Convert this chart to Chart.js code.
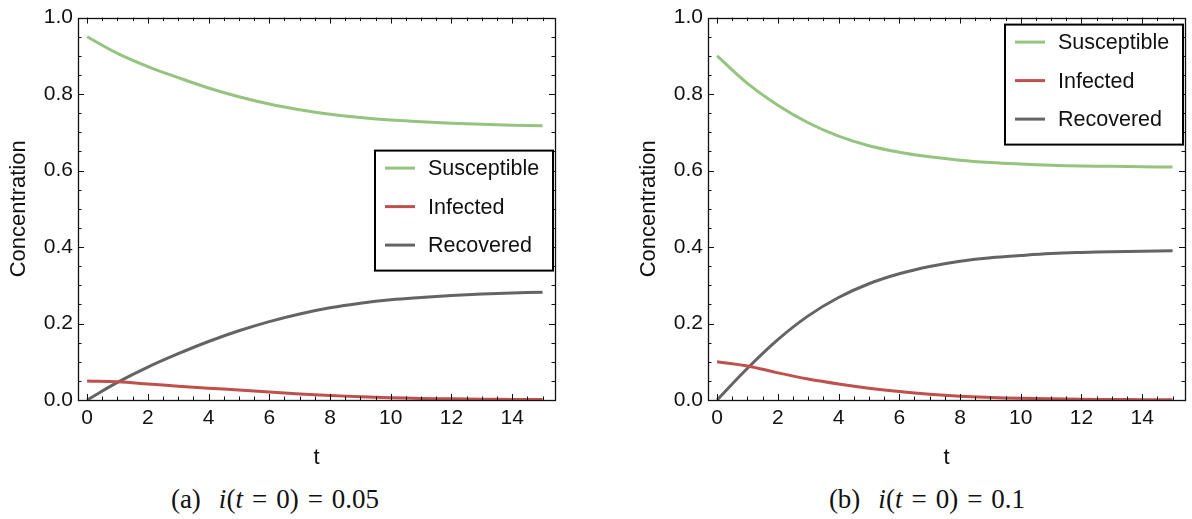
<!DOCTYPE html>
<html>
<head>
<meta charset="utf-8">
<script src="https://cdn.jsdelivr.net/npm/chart.js@4.4.1/dist/chart.umd.min.js"></script>
<style>
  html, body { margin: 0; padding: 0; background: #fff; width: 1192px; height: 519px; overflow: hidden; }
  .panel { position: absolute; top: 0; width: 562px; height: 480px; }
  .caption {
    position: absolute; top: 484px; transform: translateX(-50%);
    font-family: "Liberation Serif", "DejaVu Serif", serif; font-size: 27px; color: #111; white-space: nowrap;
  }
  .caption i { font-style: italic; }
  .caption .gap { display: inline-block; width: 18px; }
  .caption .rel { display: inline-block; margin: 0 9px; }
</style>
</head>
<body>
<div class="panel" style="left:0"><canvas id="chartA" width="562" height="480"></canvas></div>
<div class="panel" style="left:630px"><canvas id="chartB" width="562" height="480"></canvas></div>
<div class="caption" style="left:275px">(a)<span class="gap"></span><i>i</i>(<i>t</i><span class="rel">=</span>0)<span class="rel">=</span>0.05</div>
<div class="caption" style="left:927px">(b)<span class="gap"></span><i>i</i>(<i>t</i><span class="rel">=</span>0)<span class="rel">=</span>0.1</div>

<script>
// Time samples shared by both panels
const tValues = [0, 1, 2, 3, 4, 5, 6, 7, 8, 9, 10, 11, 12, 13, 14, 15];

// Panel (a): initial infected fraction 0.05
const susceptibleA = [0.950, 0.9065, 0.872, 0.843, 0.816, 0.793, 0.774, 0.759, 0.747, 0.7385, 0.732, 0.7278, 0.724, 0.7209, 0.7185, 0.717];
const infectedA    = [0.050, 0.0475, 0.042, 0.036, 0.031, 0.026, 0.021, 0.016, 0.012, 0.0085, 0.006, 0.0042, 0.003, 0.0021, 0.0015, 0.001];
const recoveredA   = [0.000, 0.046, 0.086, 0.121, 0.153, 0.181, 0.205, 0.225, 0.241, 0.253, 0.262, 0.268, 0.273, 0.277, 0.280, 0.282];

// Panel (b): initial infected fraction 0.1
const susceptibleB = [0.900, 0.828, 0.771, 0.725, 0.690, 0.665, 0.648, 0.636, 0.627, 0.621, 0.617, 0.614, 0.612, 0.611, 0.610, 0.609];
const infectedB    = [0.100, 0.089, 0.071, 0.055, 0.042, 0.031, 0.022, 0.015, 0.010, 0.0068, 0.0045, 0.003, 0.002, 0.0013, 0.0009, 0.0006];
const recoveredB   = [0.000, 0.083, 0.158, 0.220, 0.268, 0.304, 0.330, 0.349, 0.363, 0.372, 0.378, 0.383, 0.386, 0.388, 0.389, 0.390];

// Axis ticks
const xTicks = [0, 2, 4, 6, 8, 10, 12, 14];
const yTicks = [0, 0.2, 0.4, 0.6, 0.8, 1.0];

const seriesNames = ['Susceptible', 'Infected', 'Recovered'];
const seriesColors = ['#95c47f', '#bf504b', '#646464'];

const sansFont = '"Liberation Sans", Arial, sans-serif';

function toPoints(values) {
  return tValues.map((t, i) => ({ x: t, y: values[i] }));
}

function buildDatasets(s, inf, r) {
  return [s, inf, r].map((vals, i) => ({
    label: seriesNames[i],
    data: toPoints(vals),
    borderColor: seriesColors[i],
    backgroundColor: seriesColors[i],
    borderWidth: 3,
    pointRadius: 0,
    fill: false,
    tension: 0.4
  }));
}

// Frame around the plot area with inward ticks on all four sides
const frameTicks = {
  id: 'frameTicks',
  afterDatasetsDraw(chart, args, opts) {
    const ctx = chart.ctx;
    const { left, right, top, bottom } = chart.chartArea;
    const xs = chart.scales.x, ys = chart.scales.y;
    ctx.save();
    ctx.strokeStyle = '#111';
    ctx.lineWidth = 1;
    ctx.beginPath();
    // x ticks (bottom and top)
    const nx = Math.round((opts.xEnd - opts.xStart) / opts.xMinor);
    for (let k = 0; k <= nx; k++) {
      const v = opts.xStart + k * opts.xMinor;
      const major = Math.abs(v / opts.xMajor - Math.round(v / opts.xMajor)) < 1e-6;
      const len = major ? 6 : 3.5;
      const px = Math.round(xs.getPixelForValue(v)) + 0.5;
      ctx.moveTo(px, bottom); ctx.lineTo(px, bottom - len);
      ctx.moveTo(px, top); ctx.lineTo(px, top + len);
    }
    // y ticks (left and right)
    const ny = Math.round((opts.yEnd - opts.yStart) / opts.yMinor);
    for (let k = 0; k <= ny; k++) {
      const v = opts.yStart + k * opts.yMinor;
      const major = Math.abs(v / opts.yMajor - Math.round(v / opts.yMajor)) < 1e-6;
      const len = major ? 6 : 3.5;
      const py = Math.round(ys.getPixelForValue(v)) + 0.5;
      ctx.moveTo(left, py); ctx.lineTo(left + len, py);
      ctx.moveTo(right, py); ctx.lineTo(right - len, py);
    }
    ctx.stroke();
    ctx.lineWidth = 1.3;
    ctx.strokeRect(Math.round(left) + 0.5, Math.round(top) + 0.5, Math.round(right - left), Math.round(bottom - top));
    ctx.restore();
  }
};

// Boxed legend placed inside the plot area
const boxLegend = {
  id: 'boxLegend',
  afterDraw(chart, args, opts) {
    const ctx = chart.ctx;
    const area = chart.chartArea;
    const x = area.right - opts.offsetRight - opts.width;
    const y = area.top + opts.offsetTop;
    ctx.save();
    ctx.fillStyle = '#fff';
    ctx.fillRect(x, y, opts.width, opts.height);
    ctx.strokeStyle = '#000';
    ctx.lineWidth = 2;
    ctx.strokeRect(x, y, opts.width, opts.height);
    ctx.font = '21.5px ' + sansFont;
    ctx.textBaseline = 'middle';
    ctx.textAlign = 'left';
    chart.data.datasets.forEach((ds, i) => {
      const ry = y + opts.firstRow + i * opts.rowGap;
      ctx.strokeStyle = ds.borderColor;
      ctx.lineWidth = 3;
      ctx.beginPath();
      ctx.moveTo(x + 10, ry);
      ctx.lineTo(x + 40, ry);
      ctx.stroke();
      ctx.fillStyle = '#111';
      ctx.fillText(ds.label, x + 53, ry + 1);
    });
    ctx.restore();
  }
};

function makeChart(canvasId, datasets, legendTop) {
  return new Chart(document.getElementById(canvasId), {
    type: 'line',
    data: { datasets },
    options: {
      responsive: false,
      animation: false,
      devicePixelRatio: 1,
      layout: { padding: { top: 15, right: 7, left: 0, bottom: 0 } },
      plugins: {
        legend: { display: false },
        tooltip: { enabled: false },
        frameTicks: { xStart: 0, xEnd: 15, xMinor: 0.5, xMajor: 2, yStart: 0, yEnd: 1, yMinor: 0.05, yMajor: 0.2 },
        boxLegend: { width: 178, height: 120, offsetRight: 2, offsetTop: legendTop, firstRow: 17.5, rowGap: 38.5 }
      },
      scales: {
        x: {
          type: 'linear',
          min: -0.3,
          max: 15.41,
          afterBuildTicks: (s) => { s.ticks = xTicks.map(v => ({ value: v })); },
          afterFit: (s) => { s.height = 80; },
          grid: { display: false, drawTicks: false },
          border: { display: false },
          ticks: { padding: 6, color: '#111', font: { family: sansFont, size: 21 }, maxRotation: 0, callback: (v) => String(v) },
          title: { display: true, text: 't', color: '#111', font: { family: sansFont, size: 22 }, padding: { top: 0, bottom: 9 } }
        },
        y: {
          type: 'linear',
          min: 0,
          max: 1,
          afterBuildTicks: (s) => { s.ticks = yTicks.map(v => ({ value: v })); },
          afterFit: (s) => { s.width = 78; },
          grid: { display: false, drawTicks: false },
          border: { display: false },
          ticks: { padding: 5, color: '#111', font: { family: sansFont, size: 21 }, callback: (v) => Number(v).toFixed(1) },
          title: { display: true, text: 'Concentration', color: '#111', font: { family: sansFont, size: 22 }, padding: { top: 6, bottom: 0 } }
        }
      }
    },
    plugins: [frameTicks, boxLegend]
  });
}

makeChart('chartA', buildDatasets(susceptibleA, infectedA, recoveredA), 133);
makeChart('chartB', buildDatasets(susceptibleB, infectedB, recoveredB), 7);
</script>
</body>
</html>
